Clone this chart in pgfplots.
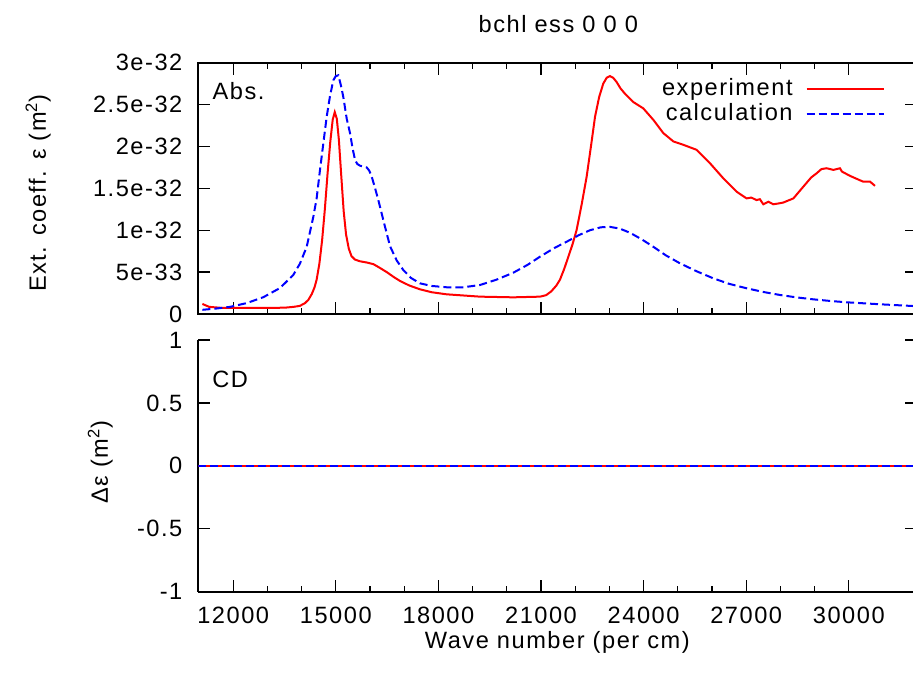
\documentclass[border=0pt]{standalone}
\usepackage{fontspec}
\setmainfont{Liberation Sans}[LetterSpace=6.5]
\usepackage{pgfplots}
\pgfplotsset{compat=1.18}
\pgfplotstableread{
x y
11100 1.2e-33
11300 0.85e-33
11700 0.72e-33
12500 0.72e-33
13500 0.75e-33
13760 0.85e-33
13950 0.97e-33
14100 1.3e-33
14200 1.7e-33
14300 2.4e-33
14380 3.2e-33
14440 4.1e-33
14520 6.0e-33
14600 8.8e-33
14680 12.5e-33
14760 16.8e-33
14840 20.6e-33
14910 23.2e-33
14970 24.1e-33
15030 23.3e-33
15090 20.8e-33
15160 16.5e-33
15230 12.3e-33
15300 9.5e-33
15380 7.8e-33
15460 6.9e-33
15560 6.5e-33
15700 6.3e-33
15900 6.15e-33
16100 5.95e-33
16250 5.6e-33
16490 5.0e-33
16700 4.4e-33
16880 3.94e-33
17150 3.4e-33
17460 2.95e-33
17800 2.6e-33
18240 2.35e-33
19220 2.07e-33
20190 1.99e-33
20970 2.07e-33
21150 2.25e-33
21300 2.7e-33
21450 3.4e-33
21555 4.1e-33
21680 5.4e-33
21800 6.84e-33
21920 8.3e-33
22040 10.0e-33
22190 13.1e-33
22335 16.4e-33
22460 20.0e-33
22580 23.55e-33
22700 25.9e-33
22820 27.5e-33
22920 28.2e-33
23017 28.4e-33
23110 28.2e-33
23210 27.7e-33
23330 26.9e-33
23455 26.3e-33
23700 25.3e-33
23990 24.55e-33
24280 23.2e-33
24575 21.6e-33
24870 20.6e-33
25160 20.2e-33
25550 19.6e-33
25940 18.0e-33
26330 16.2e-33
26720 14.6e-33
27010 13.8e-33
27150 13.9e-33
27300 13.6e-33
27400 13.7e-33
27500 13.1e-33
27650 13.4e-33
27790 13.1e-33
27950 13.2e-33
28080 13.3e-33
28380 13.8e-33
28670 15.2e-33
28900 16.3e-33
29060 16.8e-33
29200 17.3e-33
29350 17.4e-33
29550 17.2e-33
29740 17.4e-33
29800 17.0e-33
30030 16.5e-33
30250 16.1e-33
30420 15.8e-33
30620 15.8e-33
30765 15.3e-33
}\experiment
\pgfplotstableread{
x y
11100 0.5e-33
11500 0.65e-33
11906 0.85e-33
12394 1.3e-33
12879 2.0e-33
13368 3.1e-33
13757 4.66e-33
13950 6.0e-33
14148 8.0e-33
14343 11.6e-33
14440 13.8e-33
14538 17.2e-33
14640 20.5e-33
14734 23.55e-33
14830 26.0e-33
14927 27.9e-33
15000 28.4e-33
15074 28.5e-33
15150 27.3e-33
15220 25.9e-33
15320 23.3e-33
15416 21.6e-33
15490 19.8e-33
15562 18.4e-33
15630 17.9e-33
15710 17.7e-33
15904 17.5e-33
15980 17.1e-33
16050 16.4e-33
16150 15.0e-33
16243 13.6e-33
16390 11.2e-33
16585 8.1e-33
16780 6.4e-33
16973 5.25e-33
17200 4.3e-33
17461 3.66e-33
17800 3.35e-33
18242 3.19e-33
18727 3.19e-33
19216 3.46e-33
19700 4.1e-33
20190 4.93e-33
20600 5.85e-33
20970 6.84e-33
21400 7.9e-33
21751 8.63e-33
22100 9.4e-33
22432 10.0e-33
22750 10.35e-33
23017 10.4e-33
23300 10.2e-33
23602 9.7e-33
23950 8.9e-33
24283 8.03e-33
24650 7.0e-33
25063 6.05e-33
25550 5.1e-33
26037 4.26e-33
26500 3.6e-33
27013 3.07e-33
27500 2.63e-33
27988 2.27e-33
28475 1.98e-33
28962 1.75e-33
29450 1.56e-33
29927 1.40e-33
30912 1.16e-33
31886 0.95e-33
32000 0.93e-33
}\calculation
\pgfplotstableread{
x y
10980 0
15000 0
20000 0
25000 0
32000 0
}\cdexperiment
\pgfplotstableread{
x y
10980 0
15000 0
20000 0
25000 0
32000 0
}\cdcalculation
\pgfplotsset{
  panel/.style={
    scale only axis, width=359.45pt,
    xmin=10980, xmax=32000,
    xtick={12000,15000,18000,21000,24000,27000,30000},
    minor x tick num=2,
    tick align=inside,
    major tick length=6pt, minor tick length=3pt,
    tick style={black, line width=0.65pt},
    axis line style={black, line width=1pt},
    scaled ticks=false,
    yticklabel style={inner sep=0pt, xshift=-7.8pt},
    xticklabel style={inner sep=0pt, yshift=-7.6pt},
  },
  expstyle/.style={red, line width=1pt},
  calcstyle/.style={blue, line width=1pt, dash pattern=on 4pt off 2pt},
}
\begin{document}
\fontsize{11.8}{14}\selectfont
\begin{tikzpicture}[font=\fontsize{11.8}{14}\selectfont]
\path[use as bounding box] (0,0) rectangle (456.5pt,-342pt);
\begin{axis}[panel,
  at={(99.15pt,-31.35pt)}, anchor=north west,
  height=125.65pt,
  ymin=0, ymax=3e-32,
  ytick={0,5e-33,1e-32,1.5e-32,2e-32,2.5e-32,3e-32},
  yticklabels={0,5e-33,1e-32,1.5e-32,2e-32,2.5e-32,3e-32},
  xticklabels={},
  title={bchl ess 0 0 0},
  every axis title shift=0pt,
  title style={at={(axis description cs:0.5008,1.154)}, anchor=center, inner sep=0pt},
  ylabel={Ext. coeff. ε (m\textsuperscript{2})},
  every axis y label/.style={at={(axis description cs:-0.2226,0.4815)}, rotate=90, anchor=center},
  legend plot pos=right,
  legend cell align=right,
  legend image code/.code={\draw[#1] (0pt,0pt) -- (38.5pt,0pt);},
  legend style={draw=none, fill=none, inner sep=0pt, row sep=2.1pt, column sep=6.5pt,
    nodes={inner sep=0pt, text height=8.6pt, text depth=1.8pt},
    at={(rel axis cs:0.9552,0.938)}, anchor=north east},
]
\addplot[expstyle] table[x=x,y=y] {\experiment};
\addlegendentry{experiment}
\addplot[calcstyle] table[x=x,y=y] {\calculation};
\addlegendentry{calculation}
\node[anchor=base west, inner sep=0pt] at (rel axis cs:0.0195,0.855) {Abs.};
\end{axis}
\begin{axis}[panel,
  at={(99.15pt,-170pt)}, anchor=north west,
  height=125.85pt,
  axis x line*=bottom, axis y line*=box,
  ymin=-1, ymax=1,
  ytick={-1,-0.5,0,0.5,1},
  yticklabels={-1,-0.5,0,0.5,1},
  xticklabels={12000,15000,18000,21000,24000,27000,30000},
  xlabel={Wave number (per cm)},
  every axis x label/.style={at={(axis description cs:0.4994,-0.203)}, anchor=center},
  ylabel={Δε (m\textsuperscript{2})},
  every axis y label/.style={at={(axis description cs:-0.1363,0.515)}, rotate=90, anchor=center},
]
\addplot[expstyle] table[x=x,y=y] {\cdexperiment};
\addplot[calcstyle] table[x=x,y=y] {\cdcalculation};
\node[anchor=base west, inner sep=0pt] at (rel axis cs:0.019,0.81) {CD};
\end{axis}
\end{tikzpicture}
\end{document}
